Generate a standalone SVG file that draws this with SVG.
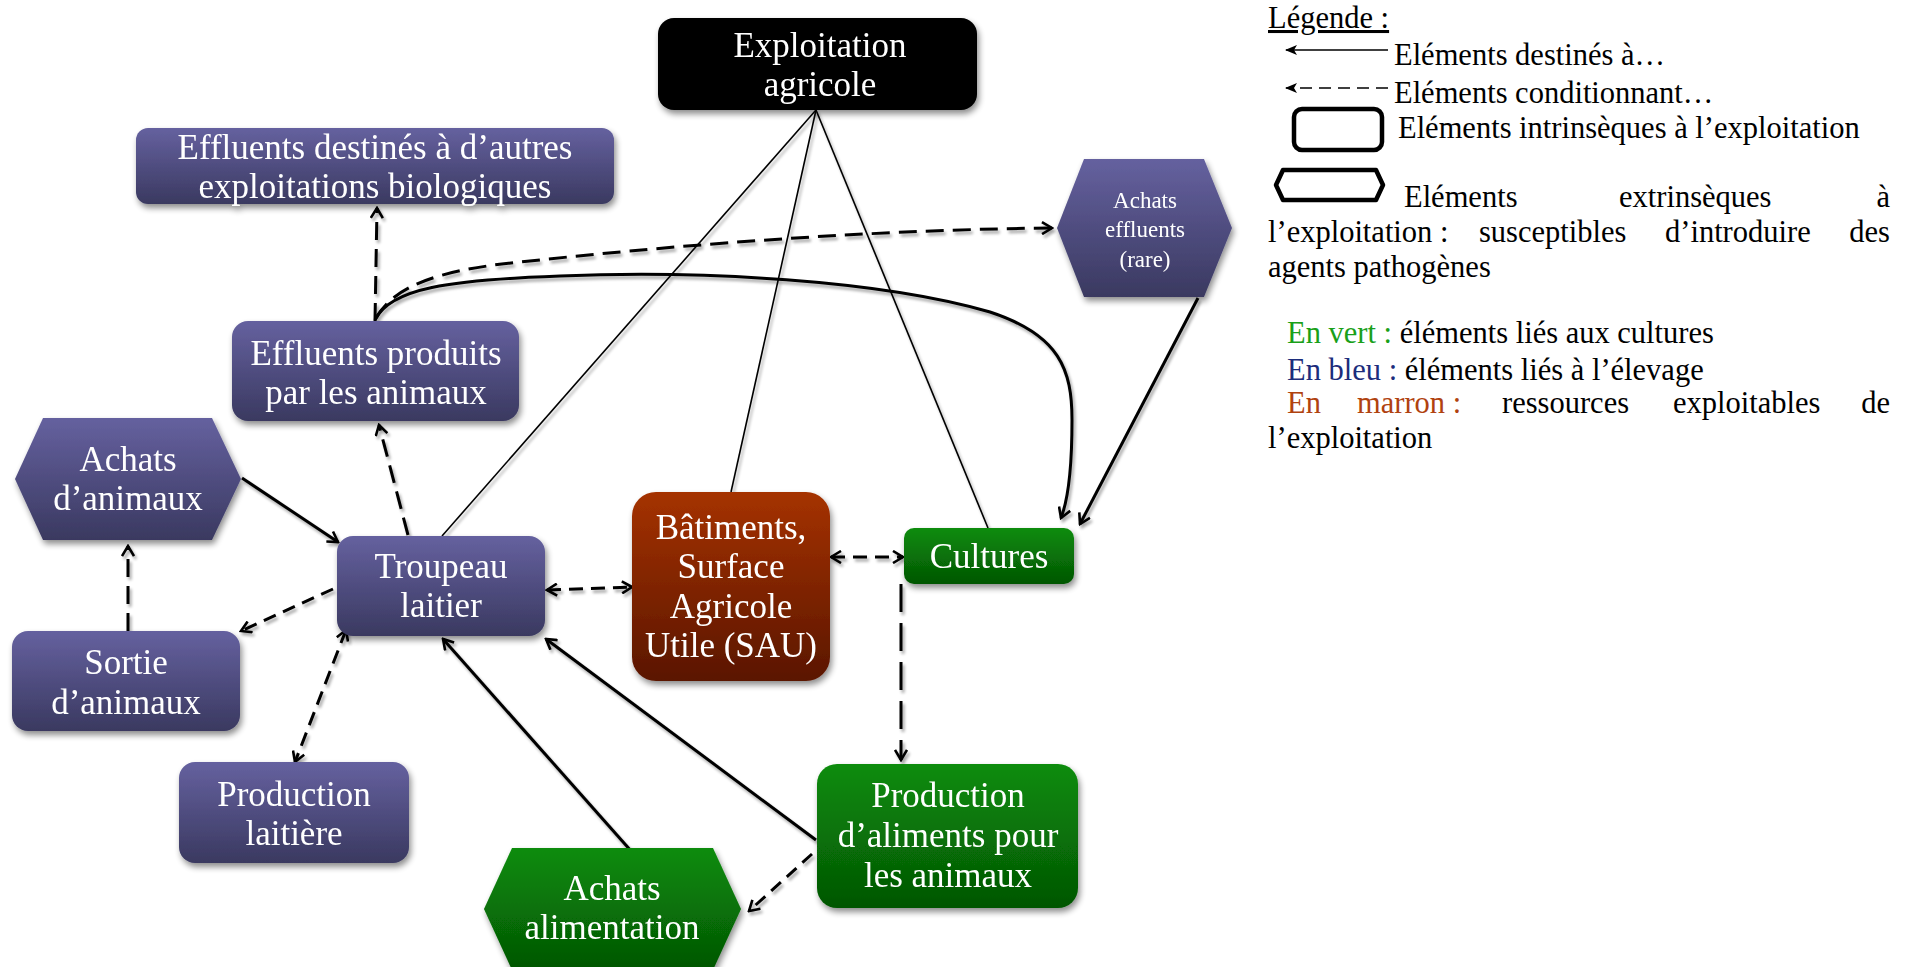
<svg xmlns="http://www.w3.org/2000/svg" width="1913" height="967" viewBox="0 0 1913 967">
<style>
.nt{font-family:"Liberation Serif","DejaVu Serif",serif;font-size:35px;fill:#fff;text-anchor:middle}
.st{font-family:"Liberation Serif","DejaVu Serif",serif;font-size:23px;fill:#fff;text-anchor:middle}
.lg{font-family:"Liberation Serif","DejaVu Serif",serif;font-size:30.5px;fill:#000}
.br{fill:#b0420f}
.thin{fill:none;stroke:#000;stroke-width:1.6}
.sol{fill:none;stroke:#000;stroke-width:3;marker-end:url(#ah)}
.dsh{fill:none;stroke:#000;stroke-width:3;stroke-dasharray:18 9;marker-end:url(#ah)}
.dbl{fill:none;stroke:#000;stroke-width:3;stroke-dasharray:14 8;marker-end:url(#ah);marker-start:url(#ah)}
</style>
<defs>
<linearGradient id="gb" x1="0" y1="0" x2="0" y2="1"><stop offset="0" stop-color="#65619f"/><stop offset="1" stop-color="#3a3960"/></linearGradient>
<linearGradient id="gg" x1="0" y1="0" x2="0" y2="1"><stop offset="0" stop-color="#0b8c0b"/><stop offset="1" stop-color="#045604"/></linearGradient>
<linearGradient id="gr" x1="0" y1="0" x2="0" y2="1"><stop offset="0" stop-color="#a53200"/><stop offset="1" stop-color="#5a1600"/></linearGradient>
<filter id="sh" x="-10%" y="-10%" width="130%" height="140%"><feGaussianBlur in="SourceAlpha" stdDeviation="3"/><feOffset dx="2" dy="4"/><feComponentTransfer><feFuncA type="linear" slope="0.45"/></feComponentTransfer><feMerge><feMergeNode/><feMergeNode in="SourceGraphic"/></feMerge></filter>
<filter id="lsh" x="-5%" y="-5%" width="110%" height="110%"><feGaussianBlur in="SourceAlpha" stdDeviation="1.5"/><feOffset dx="2" dy="3"/><feComponentTransfer><feFuncA type="linear" slope="0.35"/></feComponentTransfer><feMerge><feMergeNode/><feMergeNode in="SourceGraphic"/></feMerge></filter>
<marker id="ah" viewBox="0 0 14 14" refX="12" refY="7" markerWidth="14" markerHeight="14" orient="auto-start-reverse" markerUnits="userSpaceOnUse"><path d="M2,1 L12,7 L2,13" fill="none" stroke="#000" stroke-width="2.6"/></marker>
<marker id="lah" viewBox="0 0 12 12" refX="11" refY="6" markerWidth="12" markerHeight="12" orient="auto-start-reverse" markerUnits="userSpaceOnUse"><path d="M0,1 L12,6 L0,11 L3,6 z" fill="#000"/></marker>
</defs>
<rect width="1913" height="967" fill="#fff"/>

<g id="connectors" filter="url(#lsh)">
<line class="thin" x1="816" y1="110" x2="442" y2="536"/>
<line class="thin" x1="816" y1="110" x2="731" y2="492"/>
<line class="thin" x1="816" y1="110" x2="988" y2="528"/>
<path class="sol" d="M375,320 C390,288 450,280 560,276 C700,270 880,280 990,312 C1060,335 1072,370 1072,420 C1072,470 1068,500 1061,518"/>
<path class="dsh" d="M376,318 C395,285 440,270 520,262 C650,248 850,230 1052,228"/>
<line class="dsh" x1="375" y1="321" x2="377" y2="208"/>
<line class="dsh" x1="408" y1="535" x2="379" y2="425"/>
<line class="sol" x1="242" y1="478" x2="338" y2="542"/>
<line class="dsh" x1="128" y1="631" x2="128" y2="546"/>
<line class="dsh" style="stroke-dasharray:13 8" x1="333" y1="589" x2="241" y2="631"/>
<line class="dbl" x1="346" y1="630" x2="295" y2="762"/>
<line class="dbl" x1="547" y1="590" x2="632" y2="587"/>
<line class="dbl" x1="831" y1="557" x2="903" y2="557"/>
<line class="dsh" style="stroke-dasharray:28 11" x1="901" y1="584" x2="901" y2="760"/>
<line class="sol" x1="816" y1="840" x2="546" y2="639"/>
<line class="sol" x1="632" y1="852" x2="443" y2="639"/>
<line class="dsh" style="stroke-dasharray:13 8" x1="812" y1="854" x2="749" y2="911"/>
<line class="sol" x1="1198" y1="298" x2="1080" y2="524"/>
</g>

<g id="n-exploitation" filter="url(#sh)">
<rect x="658" y="18" width="319" height="92" rx="16" fill="#000"/>
<text class="nt" x="820" y="57">Exploitation</text>
<text class="nt" x="820" y="96">agricole</text>
</g>
<g id="n-effluents-destines" filter="url(#sh)">
<rect x="136" y="128" width="478" height="76" rx="12" fill="url(#gb)"/>
<text class="nt" x="375" y="159">Effluents destinés à d’autres</text>
<text class="nt" x="375" y="198">exploitations biologiques</text>
</g>
<g id="n-achats-effluents" filter="url(#sh)">
<polygon points="1057,228 1084,159 1204,159 1232,228 1204,297 1084,297" fill="url(#gb)"/>
<text class="st" x="1145" y="208">Achats</text>
<text class="st" x="1145" y="237">effluents</text>
<text class="st" x="1145" y="267">(rare)</text>
</g>
<g id="n-effluents-produits" filter="url(#sh)">
<rect x="232" y="321" width="287" height="100" rx="16" fill="url(#gb)"/>
<text class="nt" x="376" y="365">Effluents produits</text>
<text class="nt" x="376" y="404">par les animaux</text>
</g>
<g id="n-achats-animaux" filter="url(#sh)">
<polygon points="15,479 43,418 212,418 241,479 212,540 43,540" fill="url(#gb)"/>
<text class="nt" x="128" y="471">Achats</text>
<text class="nt" x="128" y="510">d’animaux</text>
</g>
<g id="n-troupeau" filter="url(#sh)">
<rect x="337" y="536" width="208" height="100" rx="16" fill="url(#gb)"/>
<text class="nt" x="441" y="578">Troupeau</text>
<text class="nt" x="441" y="617">laitier</text>
</g>
<g id="n-batiments" filter="url(#sh)">
<rect x="632" y="492" width="198" height="189" rx="24" fill="url(#gr)"/>
<text class="nt" x="731" y="539">Bâtiments,</text>
<text class="nt" x="731" y="578">Surface</text>
<text class="nt" x="731" y="618">Agricole</text>
<text class="nt" x="731" y="657">Utile (SAU)</text>
</g>
<g id="n-cultures" filter="url(#sh)">
<rect x="904" y="528" width="170" height="56" rx="10" fill="url(#gg)"/>
<text class="nt" x="989" y="568">Cultures</text>
</g>
<g id="n-sortie" filter="url(#sh)">
<rect x="12" y="631" width="228" height="100" rx="16" fill="url(#gb)"/>
<text class="nt" x="126" y="674">Sortie</text>
<text class="nt" x="126" y="714">d’animaux</text>
</g>
<g id="n-production-laitiere" filter="url(#sh)">
<rect x="179" y="762" width="230" height="101" rx="16" fill="url(#gb)"/>
<text class="nt" x="294" y="806">Production</text>
<text class="nt" x="294" y="845">laitière</text>
</g>
<g id="n-achats-alimentation" filter="url(#sh)">
<polygon points="484,909 512,848 713,848 741,909 713,970 512,970" fill="url(#gg)"/>
<text class="nt" x="612" y="900">Achats</text>
<text class="nt" x="612" y="939">alimentation</text>
</g>
<g id="n-production-aliments" filter="url(#sh)">
<rect x="817" y="764" width="261" height="144" rx="20" fill="url(#gg)"/>
<text class="nt" x="948" y="807">Production</text>
<text class="nt" x="948" y="847">d’aliments pour</text>
<text class="nt" x="948" y="887">les animaux</text>
</g>

<g id="legend">
<text class="lg" x="1268" y="28" text-decoration="underline">Légende :</text>
<line x1="1388" y1="50" x2="1286" y2="50" stroke="#000" stroke-width="1.6" marker-end="url(#lah)"/>
<text class="lg" x="1394" y="65">Eléments destinés à…</text>
<line x1="1388" y1="88" x2="1286" y2="88" stroke="#000" stroke-width="1.6" stroke-dasharray="12 7" marker-end="url(#lah)"/>
<text class="lg" x="1394" y="103">Eléments conditionnant…</text>
<rect x="1294" y="109" width="88" height="41" rx="8" fill="#fff" stroke="#000" stroke-width="4.5"/>
<text class="lg" x="1398" y="138">Eléments intrinsèques à l’exploitation</text>
<polygon points="1276,185 1283,170 1376,170 1383,185 1376,200 1283,200" fill="#fff" stroke="#000" stroke-width="4.5" stroke-linejoin="round"/>
<text class="lg" x="1404" y="207">Eléments</text>
<text class="lg" x="1619" y="207">extrinsèques</text>
<text class="lg" x="1890" y="207" text-anchor="end">à</text>
<text class="lg" x="1268" y="242">l’exploitation :</text>
<text class="lg" x="1479" y="242">susceptibles</text>
<text class="lg" x="1665" y="242">d’introduire</text>
<text class="lg" x="1890" y="242" text-anchor="end">des</text>
<text class="lg" x="1268" y="277">agents pathogènes</text>
<text class="lg" x="1287" y="343"><tspan style="fill:#19a019">En vert :</tspan> éléments liés aux cultures</text>
<text class="lg" x="1287" y="380"><tspan style="fill:#1c2d7c">En bleu :</tspan> éléments liés à l’élevage</text>
<text class="lg br" x="1287" y="413">En</text>
<text class="lg br" x="1357" y="413">marron :</text>
<text class="lg" x="1502" y="413">ressources</text>
<text class="lg" x="1673" y="413">exploitables</text>
<text class="lg" x="1890" y="413" text-anchor="end">de</text>
<text class="lg" x="1268" y="448">l’exploitation</text>
</g>
</svg>
